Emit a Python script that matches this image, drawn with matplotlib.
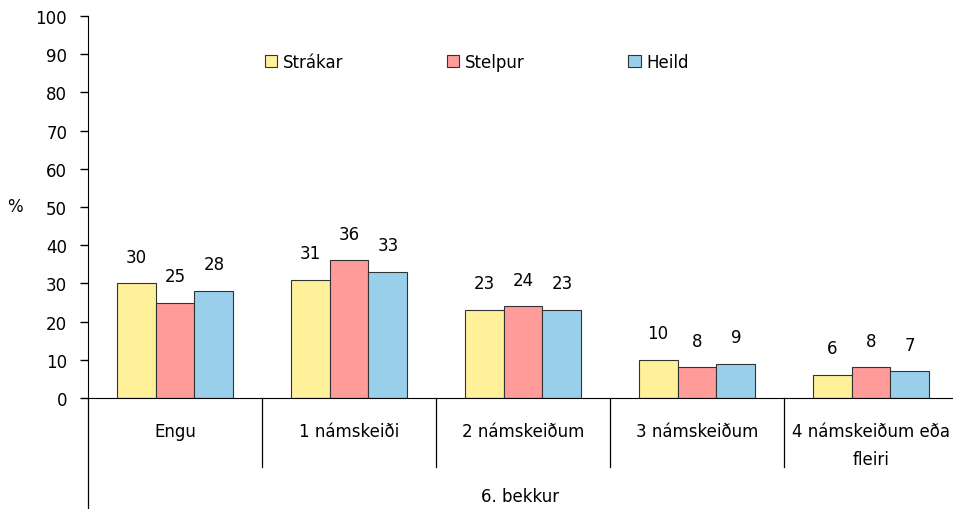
import matplotlib.pyplot as plt
import numpy as np

categories = ['Engu', '1 námskeiði', '2 námskeiðum', '3 námskeiðum', '4 námskeiðum eða\nfleiri']
strakar = [30, 31, 23, 10, 6]
stelpur = [25, 36, 24, 8, 8]
heild = [28, 33, 23, 9, 7]
series_names = ['Strákar', 'Stelpur', 'Heild']
colors = ['#FFF09A', '#FF9B99', '#99CFEB']

plt.rcParams['font.family'] = ['DejaVu Sans']

fig = plt.figure(figsize=(9.54, 5.10), dpi=100)
# plot area: x 88..958 px, y 17..399 px
ax = fig.add_axes([88 / 954, 1 - 399 / 510, 870 / 954, 382 / 510])

x = np.arange(len(categories))
w = 0.224
for i, (vals, name, c) in enumerate(zip([strakar, stelpur, heild], series_names, colors)):
    bars = ax.bar(x + (i - 1) * w, vals, w, color=c, edgecolor='#333333',
                  linewidth=0.8, label=name)
    # value labels well above the bar tops
    for b in bars:
        h = b.get_height()
        ax.text(b.get_x() + b.get_width() / 2, h + 7, str(int(h)),
                ha='center', va='center', fontsize=12)

ax.set_xlim(-0.5, len(categories) - 0.5)
ax.set_ylim(0, 100)
ax.set_yticks(range(0, 101, 10))
ax.tick_params(axis='y', length=6, width=1, labelsize=12, pad=9)
ax.tick_params(axis='x', length=0, labelbottom=False)
for s in ['top', 'right']:
    ax.spines[s].set_visible(False)
ax.spines['left'].set_bounds(0, 100)

# category labels and dividers below the axis
tr = ax.get_xaxis_transform()
for i, cat in enumerate(categories):
    ax.text(i, -0.063, cat, transform=tr, ha='center', va='top', fontsize=12,
            linespacing=1.7)
for i in range(1, len(categories)):
    ax.plot([i - 0.5, i - 0.5], [0, -0.18], transform=tr, color='black',
            linewidth=0.9, clip_on=False)
ax.plot([-0.5, -0.5], [0, -0.32], transform=tr, color='black',
        linewidth=0.9, clip_on=False)

fig.text(520 / 954, 1 - 497 / 510, '6. bekkur', ha='center', va='center', fontsize=12)
fig.text(15 / 954, 1 - 207 / 510, '%', ha='center', va='center', fontsize=12)

ax.legend(loc='center left', bbox_to_anchor=(170 / 870, 1 - 46 / 382), ncol=3,
          frameon=False, handlelength=0.75, handleheight=0.75, handletextpad=0.35,
          columnspacing=6.2, fontsize=12, borderaxespad=0)

fig.savefig('out.png', dpi=100)
